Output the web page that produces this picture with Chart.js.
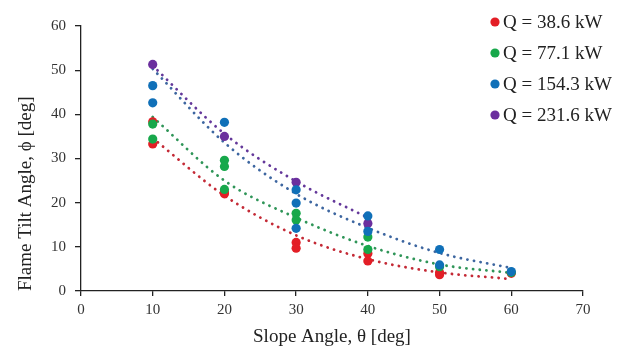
<!DOCTYPE html>
<html>
<head>
<meta charset="utf-8">
<style>
  html, body { margin: 0; padding: 0; background: #fff; }
</style>
</head>
<body>
<canvas id="tiltChart" width="619" height="347"></canvas>
<script src="https://cdn.jsdelivr.net/npm/chart.js@4.4.1/dist/chart.umd.min.js"></script>
<script>
// series names (heat release rate)
const seriesLabels = ["Q = 38.6 kW", "Q = 77.1 kW", "Q = 154.3 kW", "Q = 231.6 kW"];

// measured points [slope angle, tilt angle]
const q386Points = [[10, 33.3], [10, 38.3], [20, 22.4], [20, 22.0], [30, 11.0], [30, 9.7], [40, 8.5], [40, 6.8], [50, 4.2], [50, 3.7], [60, 4.0]];
const q771Points = [[10, 37.8], [10, 34.4], [20, 29.6], [20, 28.2], [20, 23.0], [30, 17.6], [30, 16.1], [40, 12.2], [40, 9.4], [50, 5.5], [60, 4.2]];
const q1543Points = [[10, 46.5], [10, 42.6], [20, 38.2], [30, 22.9], [30, 19.9], [30, 14.2], [40, 17.0], [40, 13.5], [50, 9.4], [50, 5.9], [60, 4.4]];
const q2316Points = [[10, 51.3], [20, 35.0], [30, 24.6], [40, 15.3]];

// trend lines
const trendAngles = [10, 20, 30, 40, 50, 60];
const q386Trend = [34.6, 21.6, 12.6, 7.2, 4.2, 2.7];
const q771Trend = [39.4, 25.0, 16.6, 10.2, 6.0, 4.1];
const q1543Trend = [50.3, 33.6, 22.0, 14.3, 8.6, 5.2];
const q2316Trend = [51.0, 35.6, 24.8, 16.6];

const xTicks = [0, 10, 20, 30, 40, 50, 60, 70];
const yTicks = [0, 10, 20, 30, 40, 50, 60];

const pointColors = ["#e31e26", "#17a84b", "#1070b8", "#6b2f9e"];
const trendColors = ["#c42a36", "#2f9558", "#3d66a0", "#64389a"];
const serif = "'Liberation Serif', 'Times New Roman', serif";

function toXY(pairs) {
    return pairs.map(p => ({ x: p[0], y: p[1] }));
}

function trendXY(values) {
    return values.map((v, i) => ({ x: trendAngles[i], y: v }));
}

const allPoints = [q386Points, q771Points, q1543Points, q2316Points];
const allTrends = [q386Trend, q771Trend, q1543Trend, q2316Trend];

let datasets = [];
for (let i = 0; i < 4; i++) {
    datasets.push({
        label: seriesLabels[i],
        data: toXY(allPoints[i]),
        backgroundColor: pointColors[i],
        borderWidth: 0,
        pointRadius: 4.6,
        showLine: false,
        order: 4 - i + (i == 3 ? 1 : 0) // blue on top
    });
}
// purple under blue
datasets[3].order = 2;
datasets[2].order = 1;

for (let i = 0; i < 4; i++) {
    datasets.push({
        label: "trend " + seriesLabels[i],
        isTrend: true,
        data: trendXY(allTrends[i]),
        showLine: true,
        borderColor: trendColors[i],
        borderWidth: 2.8,
        borderDash: [0.1, 6.6],
        borderCapStyle: "round",
        pointRadius: 0,
        cubicInterpolationMode: "monotone",
        order: 10
    });
}

// legend drawn inside the plot, top right
const cornerLegend = {
    id: "cornerLegend",
    afterDraw(chart) {
        const ctx = chart.ctx;
        ctx.save();
        ctx.font = "19px " + serif;
        ctx.textBaseline = "middle";
        ctx.textAlign = "left";
        let row = 0;
        chart.data.datasets.forEach(ds => {
            if (ds.isTrend) return;
            let y = 22 + row * 31;
            ctx.fillStyle = ds.backgroundColor;
            ctx.beginPath();
            ctx.arc(495, y, 4.6, 0, Math.PI * 2);
            ctx.fill();
            ctx.fillStyle = "#222";
            ctx.fillText(ds.label, 503, y + 1);
            row++;
        });
        ctx.restore();
    }
};

const canvas = document.getElementById("tiltChart");

new Chart(canvas, {
    type: "scatter",
    data: { datasets: datasets },
    options: {
        responsive: false,
        animation: false,
        layout: { padding: { top: 26, right: 36, left: 0, bottom: 0 } },
        plugins: {
            legend: { display: false },
            tooltip: { enabled: false }
        },
        scales: {
            x: {
                type: "linear",
                min: xTicks[0],
                max: xTicks[xTicks.length - 1],
                afterBuildTicks: s => { s.ticks = xTicks.map(v => ({ value: v })); },
                afterFit: s => { s.height = 56; },
                ticks: { color: "#333", padding: 5, font: { family: serif, size: 15 } },
                grid: { drawOnChartArea: false, tickLength: 5, color: "#222", lineWidth: 1.3 },
                border: { color: "#222", width: 1.3 },
                title: {
                    display: true,
                    text: "Slope Angle, θ [deg]",
                    color: "#222",
                    font: { family: serif, size: 19, lineHeight: 1 },
                    padding: { top: 0, bottom: 0 }
                }
            },
            y: {
                min: yTicks[0],
                max: yTicks[yTicks.length - 1],
                afterBuildTicks: s => { s.ticks = yTicks.map(v => ({ value: v })); },
                afterFit: s => { s.width = 81; },
                ticks: { color: "#333", padding: 9, font: { family: serif, size: 15 } },
                grid: { drawOnChartArea: false, tickLength: 6, color: "#222", lineWidth: 1.3 },
                border: { color: "#222", width: 1.3 },
                title: {
                    display: true,
                    text: "Flame Tilt Angle, ϕ [deg]",
                    align: "start",
                    color: "#222",
                    font: { family: serif, size: 19 },
                    padding: { top: 15, bottom: 0 }
                }
            }
        }
    },
    plugins: [cornerLegend]
});
</script>
</body>
</html>
